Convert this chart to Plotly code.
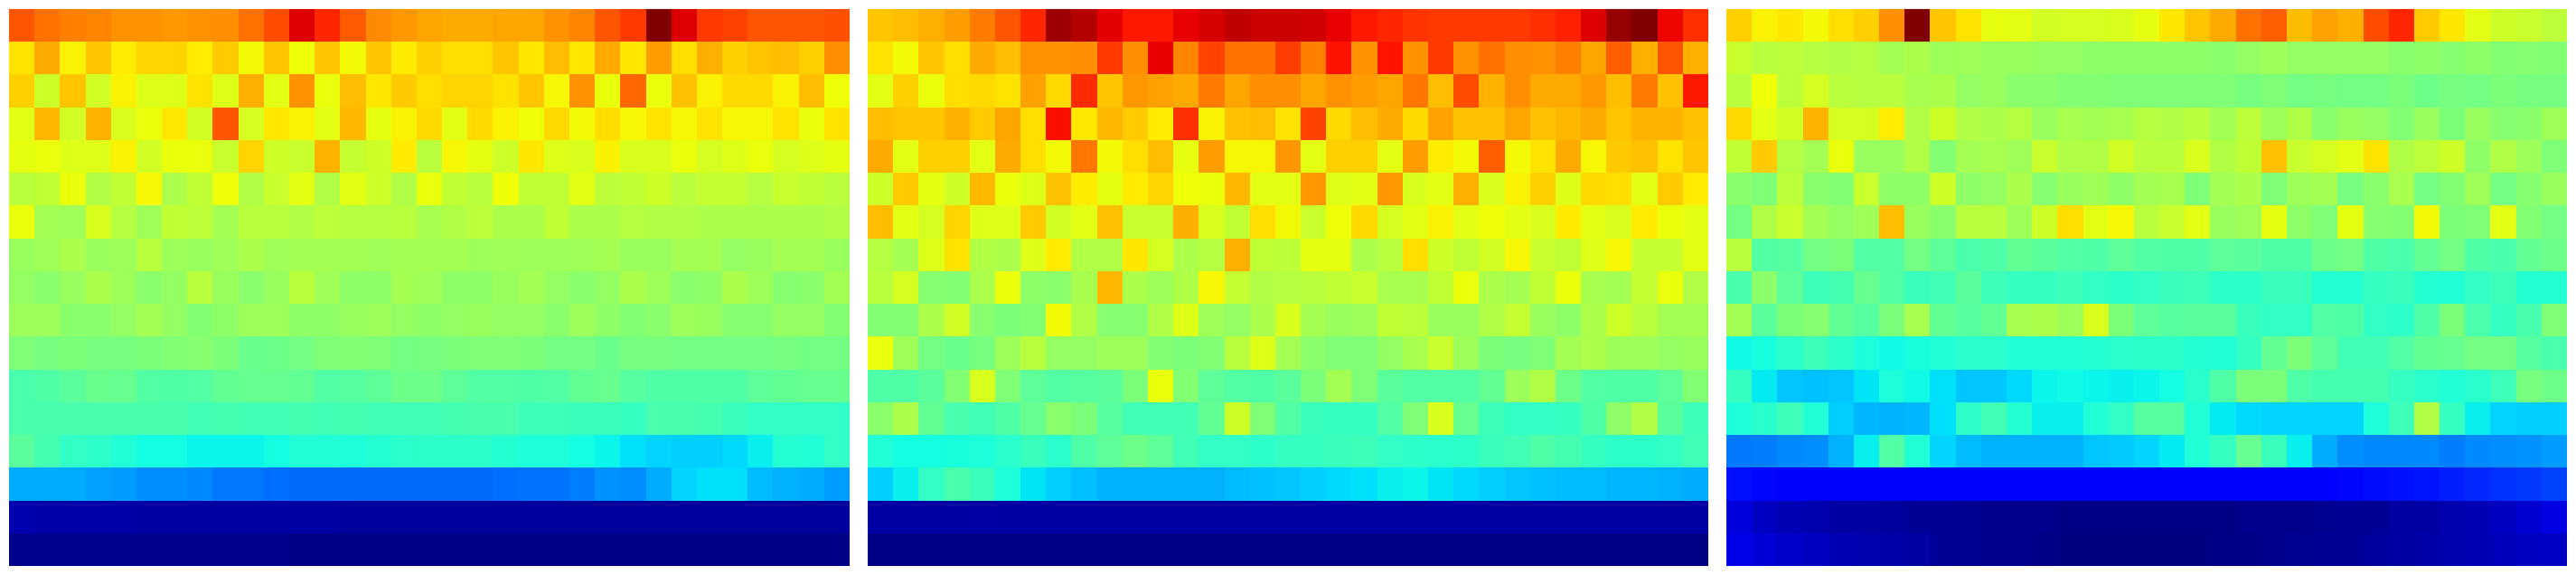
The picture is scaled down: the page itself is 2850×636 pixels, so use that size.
import plotly.graph_objects as go

JET = [
    [0.0, "rgb(0,0,128)"], [0.11, "rgb(0,0,255)"], [0.125, "rgb(0,0,255)"],
    [0.34, "rgb(0,217,255)"], [0.35, "rgb(0,229,246)"], [0.375, "rgb(20,255,226)"],
    [0.64, "rgb(238,255,8)"], [0.66, "rgb(255,236,0)"], [0.89, "rgb(255,19,0)"],
    [0.91, "rgb(232,0,0)"], [1.0, "rgb(128,0,0)"],
]

panel_a = [
    [.82,.79,.775,.77,.755,.755,.75,.755,.76,.79,.83,.92,.87,.815,.765,.75,.735,.73,.73,.735,.735,.755,.77,.82,.85,1.0,.92,.85,.84,.82,.82,.82,.825],
    [.67,.73,.655,.70,.66,.685,.685,.66,.695,.645,.70,.64,.70,.645,.70,.66,.69,.675,.675,.70,.665,.71,.665,.73,.665,.745,.675,.725,.69,.70,.71,.69,.76],
    [.69,.60,.70,.605,.655,.62,.62,.67,.62,.725,.625,.755,.635,.71,.665,.695,.675,.685,.685,.67,.70,.65,.755,.635,.80,.635,.705,.655,.68,.68,.655,.71,.64],
    [.625,.715,.605,.72,.615,.635,.665,.605,.82,.61,.665,.655,.625,.715,.63,.655,.68,.625,.68,.655,.64,.68,.645,.675,.65,.67,.65,.67,.65,.65,.67,.635,.67],
    [.63,.635,.62,.62,.655,.605,.635,.635,.595,.685,.60,.595,.72,.59,.60,.66,.575,.65,.63,.60,.665,.62,.615,.655,.615,.615,.635,.61,.62,.635,.61,.62,.63],
    [.575,.585,.635,.565,.585,.65,.56,.585,.64,.565,.595,.625,.565,.625,.60,.565,.635,.585,.575,.64,.585,.585,.625,.58,.585,.60,.575,.59,.59,.57,.595,.585,.575],
    [.635,.55,.545,.615,.57,.545,.585,.58,.55,.575,.575,.565,.58,.57,.57,.575,.555,.565,.58,.56,.56,.585,.56,.56,.57,.565,.565,.56,.56,.56,.56,.56,.565],
    [.535,.545,.56,.535,.54,.575,.54,.535,.545,.56,.545,.55,.55,.55,.545,.55,.55,.55,.54,.545,.54,.54,.545,.55,.535,.535,.55,.55,.53,.535,.55,.55,.535],
    [.53,.52,.535,.56,.54,.52,.53,.575,.535,.52,.535,.575,.545,.525,.525,.55,.545,.525,.525,.535,.55,.53,.52,.53,.56,.54,.52,.525,.56,.54,.515,.52,.55],
    [.54,.54,.52,.52,.53,.55,.53,.51,.525,.54,.54,.525,.525,.535,.54,.53,.525,.53,.535,.53,.53,.52,.54,.525,.51,.52,.54,.535,.515,.515,.53,.53,.51],
    [.505,.495,.50,.495,.495,.50,.51,.515,.50,.48,.485,.49,.505,.51,.505,.49,.495,.50,.505,.505,.50,.49,.49,.48,.495,.495,.49,.49,.49,.49,.495,.49,.49],
    [.44,.445,.46,.48,.475,.45,.445,.45,.47,.475,.475,.47,.45,.455,.465,.485,.485,.465,.45,.45,.445,.45,.47,.475,.455,.445,.445,.445,.445,.465,.47,.475,.475],
    [.44,.44,.44,.44,.44,.44,.44,.43,.435,.43,.43,.435,.43,.435,.43,.43,.43,.435,.44,.44,.425,.425,.42,.42,.415,.44,.44,.435,.42,.41,.41,.41,.41],
    [.46,.435,.41,.405,.39,.375,.375,.365,.365,.365,.375,.39,.39,.385,.395,.40,.405,.405,.405,.395,.385,.385,.375,.365,.345,.335,.33,.33,.34,.36,.395,.39,.41],
    [.295,.295,.295,.285,.28,.265,.265,.26,.245,.245,.235,.23,.23,.23,.23,.23,.23,.23,.23,.235,.24,.24,.25,.27,.265,.295,.335,.345,.345,.31,.30,.295,.28],
    [.04,.035,.035,.035,.035,.03,.03,.03,.03,.03,.03,.03,.03,.025,.025,.025,.025,.025,.025,.025,.025,.025,.025,.025,.025,.025,.025,.025,.025,.025,.025,.025,.025],
    [.012,.012,.012,.012,.012,.01,.01,.01,.01,.01,.01,.005,.005,.005,.005,.005,.005,.005,.005,.005,.005,.005,.005,.005,.005,.005,.005,.005,.005,.005,.005,.005,.005],
]

panel_b = [
    [.70,.71,.725,.745,.78,.82,.87,.975,.955,.915,.885,.885,.91,.925,.945,.935,.935,.93,.91,.885,.87,.855,.85,.85,.85,.85,.86,.875,.92,.98,1.0,.905,.86],
    [.67,.645,.70,.675,.73,.71,.755,.755,.76,.85,.76,.91,.77,.84,.79,.79,.845,.775,.89,.755,.89,.755,.85,.755,.79,.76,.755,.775,.735,.81,.725,.82,.725],
    [.625,.69,.635,.675,.68,.67,.74,.68,.865,.70,.75,.74,.73,.78,.735,.76,.76,.735,.755,.745,.735,.785,.71,.83,.72,.76,.73,.73,.75,.71,.78,.705,.885],
    [.71,.70,.70,.725,.695,.735,.675,.895,.665,.715,.695,.66,.86,.655,.705,.71,.67,.84,.68,.71,.73,.68,.74,.705,.705,.735,.705,.715,.73,.70,.72,.72,.705],
    [.73,.625,.69,.69,.625,.73,.675,.645,.785,.645,.675,.71,.63,.745,.65,.65,.75,.625,.69,.69,.625,.745,.66,.645,.81,.645,.67,.73,.65,.695,.705,.67,.70],
    [.60,.695,.63,.60,.715,.635,.62,.705,.66,.63,.66,.685,.64,.635,.715,.625,.625,.75,.62,.625,.75,.615,.625,.725,.615,.655,.69,.62,.68,.675,.625,.695,.66],
    [.71,.625,.61,.685,.62,.62,.695,.605,.625,.705,.595,.595,.725,.615,.585,.675,.645,.595,.64,.68,.61,.625,.655,.625,.64,.625,.615,.66,.625,.615,.66,.635,.625],
    [.57,.55,.62,.67,.565,.56,.62,.66,.565,.565,.665,.61,.56,.57,.725,.585,.58,.63,.63,.56,.575,.675,.60,.585,.605,.65,.595,.585,.62,.65,.59,.59,.625],
    [.575,.61,.515,.51,.56,.635,.525,.52,.555,.715,.56,.54,.565,.65,.59,.565,.57,.575,.585,.595,.555,.555,.585,.635,.56,.55,.585,.635,.555,.55,.59,.635,.565],
    [.51,.51,.56,.605,.515,.50,.51,.645,.565,.515,.515,.565,.62,.545,.53,.56,.615,.55,.535,.54,.585,.58,.535,.535,.565,.59,.535,.525,.56,.60,.575,.55,.55],
    [.635,.545,.49,.48,.495,.54,.575,.53,.53,.54,.54,.51,.50,.51,.575,.62,.55,.52,.505,.505,.53,.555,.595,.54,.50,.495,.505,.55,.56,.54,.54,.53,.535],
    [.445,.445,.46,.51,.615,.505,.465,.45,.455,.46,.50,.635,.51,.465,.45,.445,.46,.50,.55,.505,.46,.45,.45,.45,.47,.54,.565,.485,.45,.445,.445,.465,.51],
    [.52,.56,.47,.44,.43,.445,.475,.52,.50,.455,.43,.43,.43,.47,.60,.505,.45,.42,.415,.415,.45,.505,.615,.475,.425,.41,.41,.415,.445,.525,.565,.46,.425],
    [.39,.375,.375,.38,.385,.40,.42,.40,.445,.465,.485,.465,.43,.41,.41,.405,.415,.415,.42,.425,.41,.405,.40,.405,.42,.43,.445,.435,.415,.405,.405,.41,.43],
    [.33,.36,.41,.44,.42,.385,.35,.33,.315,.30,.30,.30,.30,.30,.31,.315,.32,.33,.34,.345,.36,.365,.35,.34,.33,.32,.315,.31,.31,.305,.305,.30,.295],
    [.03,.03,.03,.03,.032,.03,.03,.03,.03,.03,.03,.03,.03,.03,.03,.03,.03,.03,.03,.03,.03,.03,.03,.03,.03,.03,.03,.03,.03,.03,.03,.03,.03],
    [.005,.005,.005,.005,.005,.005,.005,.005,.005,.005,.005,.005,.005,.005,.005,.005,.005,.005,.005,.005,.005,.005,.005,.005,.005,.005,.005,.005,.005,.005,.005,.005,.005],
]

panel_c = [
    [.69,.655,.665,.645,.675,.69,.76,1.0,.70,.67,.63,.625,.605,.61,.61,.615,.63,.665,.70,.73,.79,.81,.71,.74,.725,.83,.87,.695,.665,.625,.60,.595,.58],
    [.595,.575,.58,.57,.565,.57,.55,.56,.54,.545,.535,.535,.53,.53,.525,.525,.525,.525,.525,.52,.53,.54,.53,.53,.53,.53,.52,.525,.515,.525,.51,.515,.51],
    [.575,.64,.58,.61,.575,.57,.575,.555,.56,.53,.535,.52,.52,.51,.51,.505,.505,.505,.505,.505,.495,.505,.49,.495,.49,.49,.50,.485,.495,.49,.50,.495,.495],
    [.68,.625,.605,.72,.61,.61,.66,.565,.60,.565,.56,.57,.535,.555,.55,.555,.57,.565,.575,.55,.58,.54,.565,.52,.535,.53,.51,.535,.50,.535,.515,.52,.545],
    [.585,.695,.57,.55,.635,.535,.535,.565,.51,.55,.555,.545,.595,.565,.565,.605,.575,.575,.615,.565,.585,.705,.595,.61,.625,.67,.565,.58,.60,.525,.565,.54,.505],
    [.52,.505,.58,.52,.51,.595,.525,.525,.60,.525,.53,.56,.515,.535,.545,.525,.55,.555,.505,.55,.56,.505,.54,.55,.495,.52,.555,.49,.51,.545,.49,.515,.535],
    [.49,.565,.595,.55,.53,.545,.71,.535,.52,.575,.575,.54,.60,.675,.625,.65,.575,.595,.625,.535,.545,.63,.525,.505,.63,.515,.51,.645,.50,.505,.625,.51,.49],
    [.575,.45,.455,.49,.50,.45,.45,.49,.465,.44,.445,.47,.46,.45,.445,.465,.45,.445,.445,.465,.46,.445,.445,.485,.49,.445,.44,.47,.49,.445,.44,.47,.485],
    [.44,.52,.465,.425,.435,.475,.45,.42,.43,.46,.425,.415,.415,.425,.41,.405,.41,.42,.425,.405,.405,.42,.42,.395,.395,.415,.42,.395,.39,.41,.425,.395,.395],
    [.55,.46,.50,.515,.47,.455,.50,.555,.47,.455,.47,.555,.56,.54,.615,.50,.465,.455,.46,.46,.42,.41,.41,.45,.445,.41,.405,.445,.50,.44,.415,.44,.505],
    [.37,.38,.40,.425,.405,.385,.37,.38,.39,.40,.40,.39,.39,.39,.395,.40,.405,.405,.395,.39,.415,.47,.50,.465,.43,.43,.45,.47,.475,.49,.49,.455,.44],
    [.415,.355,.32,.315,.32,.35,.385,.37,.345,.32,.32,.34,.365,.37,.365,.36,.365,.375,.40,.445,.50,.50,.445,.435,.435,.435,.415,.40,.39,.40,.425,.495,.485],
    [.385,.40,.425,.39,.33,.305,.30,.305,.345,.405,.43,.395,.36,.36,.39,.41,.455,.455,.39,.355,.34,.335,.335,.335,.335,.385,.425,.565,.415,.36,.335,.33,.33],
    [.245,.25,.26,.265,.30,.36,.45,.39,.335,.31,.30,.30,.30,.30,.32,.325,.335,.355,.39,.415,.475,.42,.36,.295,.265,.26,.26,.26,.25,.26,.265,.27,.28],
    [.14,.13,.12,.12,.12,.12,.12,.12,.12,.12,.12,.12,.12,.12,.12,.12,.12,.12,.12,.12,.12,.12,.12,.125,.13,.135,.14,.145,.155,.165,.175,.18,.19],
    [.08,.055,.045,.04,.03,.03,.025,.02,.02,.015,.01,.01,.01,.005,.005,.005,.005,.005,.005,.005,.01,.01,.01,.015,.02,.02,.03,.03,.04,.045,.055,.07,.085],
    [.09,.075,.065,.055,.045,.04,.035,.03,.02,.015,.01,.01,.005,.0,.0,.0,.0,.0,.0,.005,.005,.01,.015,.02,.02,.025,.03,.035,.04,.045,.05,.055,.06],
]

panels = [panel_a, panel_b, panel_c]
for p in panels:
    assert len(p) == 17 and all(len(r) == 33 for r in p), [len(r) for r in p]

W, H = 2850, 636
x_domains = [(10 / W, 940 / W), (960 / W, 1890 / W), (1910 / W, 2840 / W)]
y_domain = (1 - 626 / H, 1 - 10 / H)

fig = go.Figure()
layout = dict(width=W, height=H, autosize=False, margin=dict(l=0, r=0, t=0, b=0),
              paper_bgcolor="white", plot_bgcolor="white", showlegend=False)
for i, (z, dom) in enumerate(zip(panels, x_domains), start=1):
    suffix = "" if i == 1 else str(i)
    fig.add_trace(go.Heatmap(z=z, zmin=0, zmax=1, colorscale=JET, showscale=False,
                             xaxis=f"x{suffix}", yaxis=f"y{suffix}"))
    layout[f"xaxis{suffix}"] = dict(domain=dom, visible=False, showgrid=False, zeroline=False,
                                    range=[-0.5, 32.5], fixedrange=True)
    layout[f"yaxis{suffix}"] = dict(domain=y_domain, visible=False, showgrid=False, zeroline=False,
                                    range=[16.5, -0.5], fixedrange=True)
fig.update_layout(**layout)
fig.write_html("out.html", config={"displayModeBar": False},
               post_script="document.body.style.margin='0';document.body.style.overflow='hidden';")
